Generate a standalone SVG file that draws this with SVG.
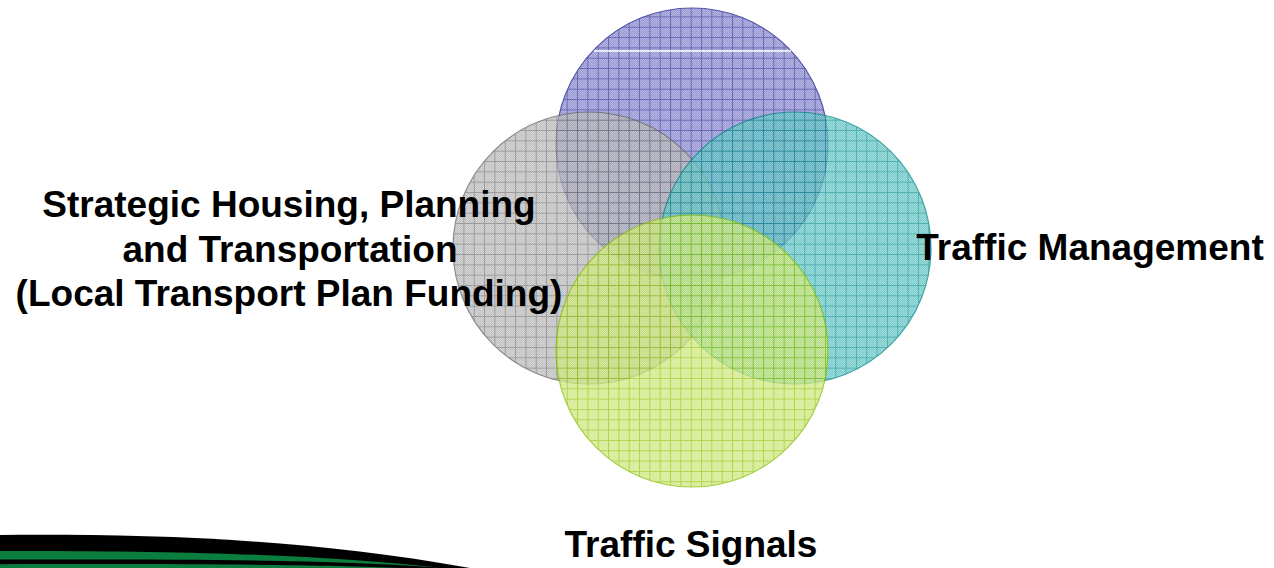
<svg xmlns="http://www.w3.org/2000/svg" width="1274" height="568" viewBox="0 0 1274 568">
  <style>
    .lbl { font-family: "Liberation Sans", Arial, sans-serif; font-weight: bold; font-size: 37px; fill: #000; text-anchor: middle; }
    .ring { stroke-width: 1.2; }
  </style>
  <defs>
    <pattern id="chk" patternUnits="userSpaceOnUse" width="2" height="2">
      <rect x="0" y="0" width="1" height="1" fill="#fff" fill-opacity="0.28"/>
      <rect x="1" y="1" width="1" height="1" fill="#fff" fill-opacity="0.28"/>
    </pattern>
    <pattern id="gBlue" patternUnits="userSpaceOnUse" x="8.9" y="6.1" width="10.33" height="10.33">
      <path d="M0,0.5H10.33M0.5,0V10.33" stroke="#1c1c8c" stroke-opacity="0.75" stroke-width="1" fill="none"/>
    </pattern>
    <pattern id="gGrey" patternUnits="userSpaceOnUse" x="8.9" y="6.1" width="10.33" height="10.33">
      <path d="M0,0.5H10.33M0.5,0V10.33" stroke="#666" stroke-opacity="0.75" stroke-width="1" fill="none"/>
    </pattern>
    <pattern id="gTeal" patternUnits="userSpaceOnUse" x="8.9" y="6.1" width="10.33" height="10.33">
      <path d="M0,0.5H10.33M0.5,0V10.33" stroke="#008585" stroke-opacity="0.75" stroke-width="1" fill="none"/>
    </pattern>
    <pattern id="gYel" patternUnits="userSpaceOnUse" x="8.9" y="6.1" width="10.33" height="10.33">
      <path d="M0,0.5H10.33M0.5,0V10.33" stroke="#86bf00" stroke-opacity="0.8" stroke-width="1" fill="none"/>
    </pattern>
  </defs>

  <g id="swoosh">
    <path d="M0,535 C150,534 300,538 470,568 L0,568 Z" fill="#000"/>
    <path d="M0,551 C200,550.5 330,556 440,567.5 C330,560 200,559 0,559.5 Z" fill="#0b7d3e"/>
    <path d="M0,564.3 C200,563.5 330,565 400,568 L0,568 Z" fill="#0b7d3e"/>
  </g>

  <g id="circle-top" opacity="0.75">
    <circle cx="692" cy="144" r="136" fill="#7878c8"/>
    <circle cx="692" cy="144" r="136" fill="url(#chk)"/>
    <circle cx="692" cy="144" r="136" fill="url(#gBlue)" stroke="#1c1c8c" class="ring"/>
  </g>
  <line x1="594" y1="51" x2="791" y2="51" stroke="#fff" stroke-width="1.6"/>

  <g id="circle-left" opacity="0.75">
    <circle cx="589" cy="248" r="136" fill="#afafaf"/>
    <circle cx="589" cy="248" r="136" fill="url(#chk)"/>
    <circle cx="589" cy="248" r="136" fill="url(#gGrey)" stroke="#666" class="ring"/>
  </g>

  <g id="circle-right" opacity="0.75">
    <circle cx="795" cy="248" r="136" fill="#50bcbc"/>
    <circle cx="795" cy="248" r="136" fill="url(#chk)"/>
    <circle cx="795" cy="248" r="136" fill="url(#gTeal)" stroke="#008585" class="ring"/>
  </g>

  <g id="circle-bottom" opacity="0.75">
    <circle cx="692" cy="351" r="136" fill="#c9e46c"/>
    <circle cx="692" cy="351" r="136" fill="url(#chk)"/>
    <circle cx="692" cy="351" r="136" fill="url(#gYel)" stroke="#86bf00" class="ring"/>
  </g>

  <g id="label-left">
    <text class="lbl" x="289" y="217">Strategic Housing, Planning</text>
    <text class="lbl" x="290" y="262">and Transportation</text>
    <text class="lbl" x="289" y="306">(Local Transport Plan Funding)</text>
  </g>
  <g id="label-right">
    <text class="lbl" x="1090" y="260">Traffic Management</text>
  </g>
  <g id="label-bottom">
    <text class="lbl" x="691" y="557">Traffic Signals</text>
  </g>
</svg>
